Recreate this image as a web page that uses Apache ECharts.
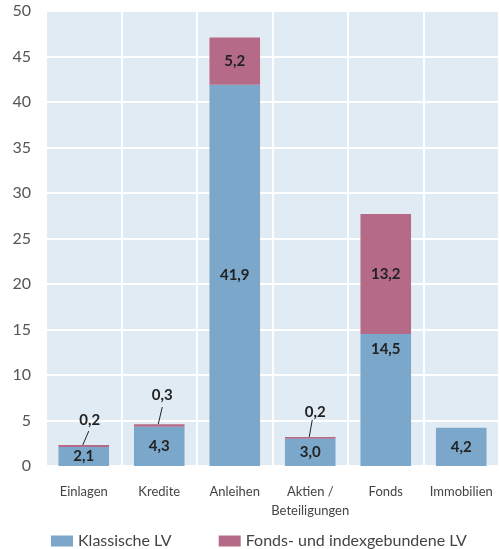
<!DOCTYPE html>
<html><head><meta charset="utf-8">
<script src="https://cdn.jsdelivr.net/npm/echarts@6/dist/echarts.min.js"></script>
<style>html,body{margin:0;padding:0;background:#fff}#c{width:499px;height:549px}</style>
</head><body><div id="c"></div>
<script>
var categories = ['Einlagen', 'Kredite', 'Anleihen', 'Aktien /\nBeteiligungen', 'Fonds', 'Immobilien'];
var klassisch = [2.1, 4.3, 41.9, 3.0, 14.5, 4.2];
var fondsLV = [0.2, 0.3, 5.2, 0.2, 13.2, null];
var yTicks = [0, 5, 10, 15, 20, 25, 30, 35, 40, 45, 50];
var seriesNames = ['Klassische LV', 'Fonds- und indexgebundene LV'];

var fmt = function (v) { return v.toFixed(1).replace('.', ','); };
var blue = '#7ba7cb', pink = '#b56b87';
var font = 'Lato, "Open Sans", sans-serif';

// label offsets (dx, dy) and leader line (dx, height) for the thin segments
var smallShift = { 0: [6, -26, 6, 14], 1: [3, -30, 4, 17], 3: [5, -26, 3, 17] };
var leaderData = [];
fondsLV.forEach(function (v, i) {
  if (smallShift[i]) leaderData.push([i, klassisch[i] + v]);
});

var chart = echarts.init(document.getElementById('c'));
chart.setOption({
  animation: false,
  grid: { left: 46, top: 11, width: 456, height: 455, backgroundColor: '#e1ebf4', show: true, borderWidth: 0 },
  legend: {
    bottom: -5, left: 46, itemGap: 47, itemWidth: 22, itemHeight: 11, icon: 'rect',
    textStyle: { fontFamily: font, fontSize: 16, color: '#444' },
    data: seriesNames
  },
  xAxis: {
    type: 'category', data: categories,
    axisLine: { show: false }, axisTick: { show: false },
    axisLabel: { margin: 16, fontFamily: font, fontSize: 13, color: '#444', lineHeight: 19, interval: 0 },
    splitLine: { show: true, lineStyle: { color: '#fff', width: 2 } }
  },
  yAxis: {
    type: 'value', min: 0, max: 50, interval: 5,
    axisLine: { show: false }, axisTick: { show: false },
    axisLabel: { margin: 15, fontFamily: font, fontSize: 16, color: '#555' },
    splitLine: { lineStyle: { color: '#fff', width: 2 } }
  },
  series: [
    {
      name: seriesNames[0], type: 'bar', stack: 's', barWidth: '67%',
      itemStyle: { color: blue },
      data: klassisch.map(function (v, i) {
        return { value: v, label: { position: i === 4 ? 'insideTop' : 'inside', distance: 8 } };
      }),
      label: { show: true, fontFamily: font, fontSize: 15, fontWeight: 'bold', color: '#222', formatter: function (p) { return fmt(p.value); } }
    },
    {
      name: seriesNames[1], type: 'bar', stack: 's', barWidth: '67%',
      itemStyle: { color: pink },
      data: fondsLV,
      label: { show: true, position: 'inside', fontFamily: font, fontSize: 15, fontWeight: 'bold', color: '#222',
        formatter: function (p) { return p.value == null ? '' : fmt(p.value); } },
      labelLayout: function (p) {
        var s = smallShift[p.dataIndex];
        if (s) return { dx: s[0], dy: s[1] };
        return {};
      }
    },
    {
      type: 'custom', silent: true, z: 5,
      data: leaderData,
      renderItem: function (params, api) {
        var idx = api.value(0);
        var pt = api.coord([idx, api.value(1)]);
        var s = smallShift[idx];
        return {
          type: 'line',
          shape: { x1: pt[0] - 1, y1: pt[1], x2: pt[0] - 1 + s[2], y2: pt[1] - s[3] },
          style: { stroke: '#222', lineWidth: 1 }
        };
      }
    }
  ]
});
</script></body></html>
